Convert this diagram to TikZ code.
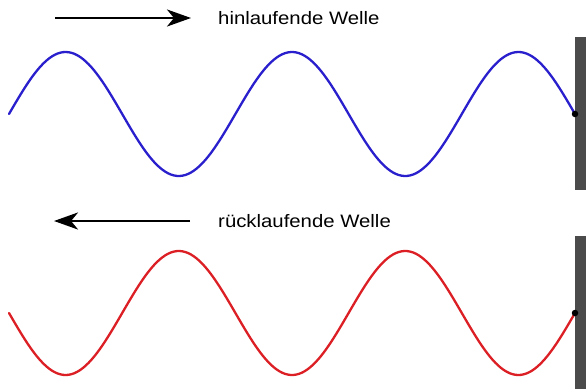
\documentclass[tikz,border=0pt]{standalone}
\usepackage{fontspec}
\setmainfont{Liberation Sans}
\usetikzlibrary{arrows.meta}
\definecolor{wblue}{HTML}{2A1FCC}
\definecolor{wred}{HTML}{DC1F24}
\definecolor{wall}{HTML}{4B4B4B}
\tikzset{
  wave/.style={line width=2.3pt, line cap=round},
  dirarrow/.style={line width=2.7pt, -{Stealth[length=24pt,width=17pt,inset=7pt]}},
  label/.style={anchor=base west, inner sep=0pt, font=\fontsize{18pt}{20pt}\selectfont, xscale=1.13},
  wallbar/.style={fill=wall, draw=none},
  enddot/.style={circle, fill=black, inner sep=0pt, minimum size=6.5pt}
}
\begin{document}
\begin{tikzpicture}[x=1pt, y=-1pt]
\useasboundingbox (0,0) rectangle (586,389);
% walls
\fill[wallbar] (575,37) rectangle (586,190);
\fill[wallbar] (575,236) rectangle (586,389);
% top arrow and label
\coordinate (a1s) at (55,18);
\coordinate (a1e) at (191,18);
\draw[dirarrow] (a1s) -- (a1e);
\node[label] (t1) at (218,24.5) {hinlaufende Welle};
% bottom arrow and label
\coordinate (a2s) at (190,221);
\coordinate (a2e) at (54,221);
\draw[dirarrow] (a2s) -- (a2e);
\node[label] (t2) at (218,227.5) {rücklaufende Welle};
% waves
\draw[wave, wblue] plot[domain=9:575, samples=200, smooth] (\x, {114 - 62*sin(1.590106*(\x-9))});
\draw[wave, wred] plot[domain=9:575, samples=200, smooth] (\x, {313 + 62*sin(1.590106*(\x-9))});
% end points
\node[enddot] (d1) at (575,114) {};
\node[enddot] (d2) at (575,313) {};
\end{tikzpicture}
\end{document}
